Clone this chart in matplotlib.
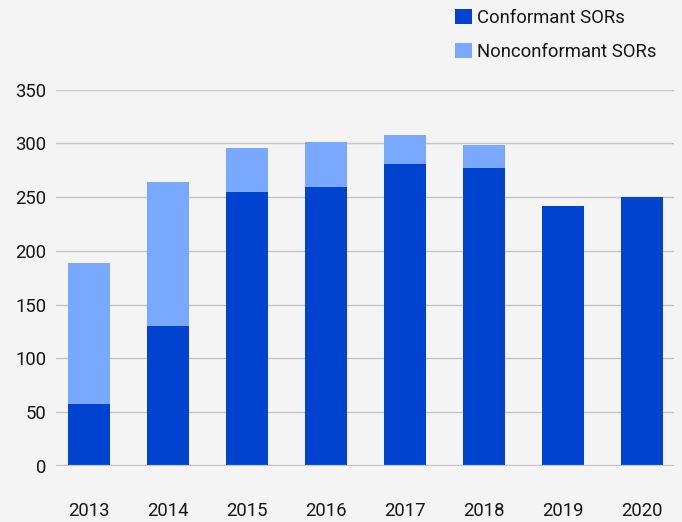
import matplotlib
matplotlib.use("Agg")
import matplotlib.pyplot as plt
from matplotlib.patches import Patch

years = ["2013", "2014", "2015", "2016", "2017", "2018", "2019", "2020"]
conformant = [58, 130, 255, 259, 281, 277, 242, 250]
nonconformant = [131, 134, 41, 42, 27, 21, 0, 0]

plt.rcParams['font.family'] = ['Roboto', 'DejaVu Sans']

fig = plt.figure(figsize=(6.82, 5.22), dpi=100, facecolor="#f4f4f4")
ax = fig.add_axes([56/682, (522-466)/522, (674-56)/682, (466-89.5)/522])
ax.set_facecolor("#f4f4f4")

dark = "#0043ce"
light = "#78a9ff"
x = list(range(len(years)))
ax.bar(x, conformant, width=0.53, color=dark, zorder=3)
ax.bar(x, nonconformant, width=0.53, bottom=conformant, color=light, zorder=3)

ax.set_ylim(0, 350)
ax.set_xlim(-0.42, 7.41)
ax.set_yticks(range(0, 351, 50))
ax.set_xticks(x)
ax.set_xticklabels(years)
ax.yaxis.grid(True, color="#c6c6c6", linewidth=1.0, zorder=0)
ax.set_axisbelow(True)
for s in ax.spines.values():
    s.set_visible(False)
ax.axhline(0, color="#c6c6c6", linewidth=1.6, zorder=4)
ax.tick_params(axis='both', length=0, labelsize=13.3, colors="#161616")
ax.tick_params(axis='x', pad=26)
ax.tick_params(axis='y', pad=7)
for lbl in ax.get_yticklabels():
    lbl.set_verticalalignment('center_baseline')

handles = [Patch(facecolor=dark, label="Conformant SORs"),
           Patch(facecolor=light, label="Nonconformant SORs")]
fig.legend(handles=handles, loc="upper left", bbox_to_anchor=(455/682, 1-9/522),
           frameon=False, fontsize=13.3, handlelength=0.9, handleheight=0.9,
           handletextpad=0.3, labelspacing=0.85, borderpad=0, borderaxespad=0,
           labelcolor="#161616")

fig.savefig("out.png", dpi=100, facecolor=fig.get_facecolor())
